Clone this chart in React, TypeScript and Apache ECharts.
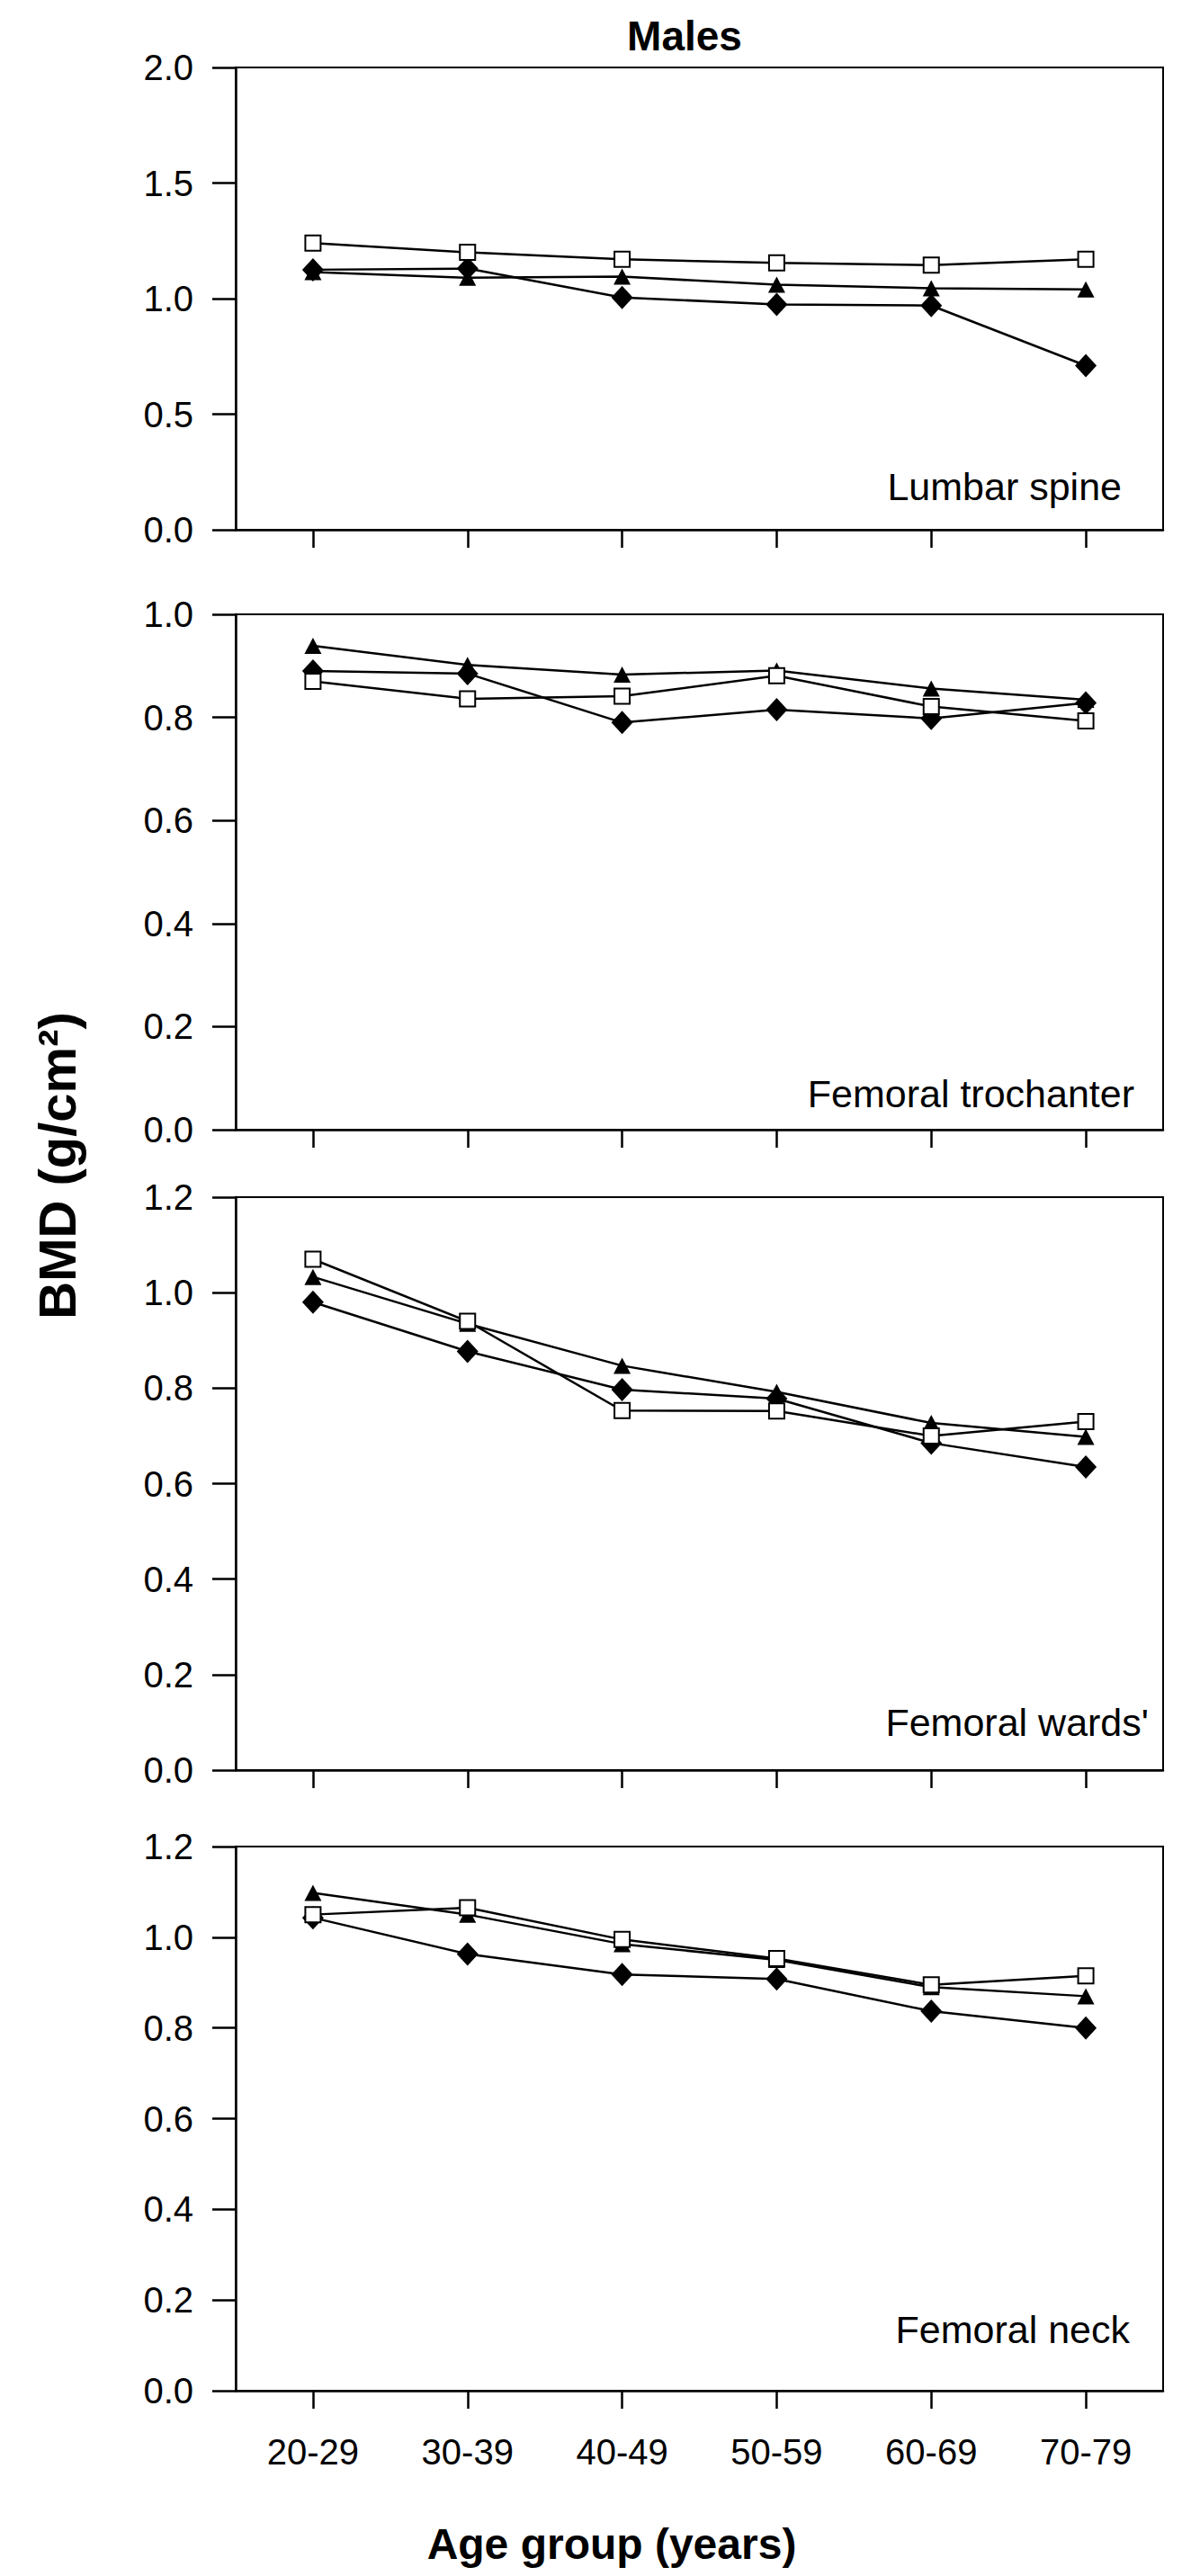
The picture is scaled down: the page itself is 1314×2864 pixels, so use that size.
import React, { useEffect, useRef } from "react";
import * as echarts from "echarts";

const categories = ["20-29", "30-39", "40-49", "50-59", "60-69", "70-79"];

const panelNames = ["Lumbar spine", "Femoral trochanter", "Femoral wards'", "Femoral neck"];
const panelMax = [2.0, 1.0, 1.2, 1.2];
const panelInterval = [0.5, 0.2, 0.2, 0.2];

// Lumbar spine
const lumbarSquare = [1.24, 1.2, 1.17, 1.155, 1.145, 1.17];
const lumbarTriangle = [1.115, 1.09, 1.095, 1.06, 1.045, 1.04];
const lumbarDiamond = [1.125, 1.13, 1.005, 0.975, 0.97, 0.71];

// Femoral trochanter
const trochSquare = [0.87, 0.836, 0.841, 0.881, 0.821, 0.793];
const trochTriangle = [0.939, 0.902, 0.883, 0.891, 0.856, 0.834];
const trochDiamond = [0.89, 0.885, 0.79, 0.815, 0.798, 0.828];

// Femoral wards'
const wardsSquare = [1.07, 0.94, 0.753, 0.752, 0.7, 0.73];
const wardsTriangle = [1.033, 0.935, 0.847, 0.792, 0.727, 0.698];
const wardsDiamond = [0.98, 0.877, 0.797, 0.778, 0.685, 0.635];

// Femoral neck
const neckSquare = [1.05, 1.065, 0.995, 0.953, 0.895, 0.915];
const neckTriangle = [1.098, 1.05, 0.985, 0.95, 0.89, 0.87];
const neckDiamond = [1.043, 0.963, 0.918, 0.908, 0.837, 0.8];

const panelData = [
  { square: lumbarSquare, triangle: lumbarTriangle, diamond: lumbarDiamond },
  { square: trochSquare, triangle: trochTriangle, diamond: trochDiamond },
  { square: wardsSquare, triangle: wardsTriangle, diamond: wardsDiamond },
  { square: neckSquare, triangle: neckTriangle, diamond: neckDiamond },
];

const FONT = "'Liberation Sans', Arial, Helvetica, sans-serif";

export default function App() {
  const ref = useRef<HTMLDivElement>(null);

  useEffect(() => {
    document.body.style.margin = "0";
    if (!ref.current) return;
    const chart = echarts.init(ref.current, undefined, { renderer: "svg" });

    const gridLeft = 262;
    const gridWidth = 1031;
    const gridTops = [75, 683, 1331, 2053];
    const gridHeights = [514, 573, 637, 605];
    const labelPos = [
      { x: 1247, y: 541 },
      { x: 1261, y: 1216 },
      { x: 1277, y: 1915 },
      { x: 1256, y: 2590 },
    ];

    const grids = gridTops.map((t, i) => ({
      left: gridLeft,
      top: t,
      width: gridWidth,
      height: gridHeights[i],
      show: true,
      borderColor: "#000",
      borderWidth: 2,
      backgroundColor: "transparent",
    }));

    const xAxes = gridTops.map((_, i) => ({
      type: "category",
      gridIndex: i,
      data: categories,
      boundaryGap: true,
      axisLine: { show: true, lineStyle: { color: "#000", width: 2.5 } },
      axisTick: {
        show: true,
        alignWithLabel: true,
        interval: 0,
        length: 20,
        lineStyle: { color: "#000", width: 2.5 },
      },
      axisLabel: {
        show: i === 3,
        interval: 0,
        margin: 48,
        fontSize: 40,
        color: "#000",
        fontFamily: FONT,
      },
      splitLine: { show: false },
    }));

    const yAxes = gridTops.map((_, i) => ({
      type: "value",
      gridIndex: i,
      min: 0,
      max: panelMax[i],
      interval: panelInterval[i],
      axisLine: { show: true, lineStyle: { color: "#000", width: 2.5 } },
      axisTick: { show: true, length: 26, lineStyle: { color: "#000", width: 2.5 } },
      axisLabel: {
        margin: 47,
        fontSize: 40,
        color: "#000",
        fontFamily: FONT,
        formatter: (v: number) => v.toFixed(1),
      },
      splitLine: { show: false },
    }));

    const series: any[] = [];
    panelData.forEach((p, i) => {
      series.push({
        type: "line",
        name: "diamond",
        xAxisIndex: i,
        yAxisIndex: i,
        data: p.diamond,
        symbol: "diamond",
        symbolSize: [24, 26],
        lineStyle: { color: "#000", width: 2.5 },
        itemStyle: { color: "#000" },
      });
      series.push({
        type: "line",
        name: "triangle",
        xAxisIndex: i,
        yAxisIndex: i,
        data: p.triangle,
        symbol: "triangle",
        symbolSize: [19, 18],
        lineStyle: { color: "#000", width: 2.5 },
        itemStyle: { color: "#000" },
      });
      series.push({
        type: "line",
        name: "square",
        xAxisIndex: i,
        yAxisIndex: i,
        data: p.square,
        symbol: "rect",
        symbolSize: 17,
        lineStyle: { color: "#000", width: 2.5 },
        itemStyle: { color: "#fff", borderColor: "#000", borderWidth: 2 },
      });
    });

    const graphics: any[] = [
      {
        type: "text",
        x: 761,
        y: 40,
        style: {
          text: "Males",
          font: `bold 46px ${FONT}`,
          fill: "#000",
          textAlign: "center",
          textVerticalAlign: "middle",
        },
      },
      {
        type: "text",
        x: 63,
        y: 1296,
        rotation: Math.PI / 2,
        style: {
          text: "BMD (g/cm²)",
          font: `bold 58px ${FONT}`,
          fill: "#000",
          textAlign: "center",
          textVerticalAlign: "middle",
        },
      },
      {
        type: "text",
        x: 680,
        y: 2828,
        style: {
          text: "Age group (years)",
          font: `bold 48px ${FONT}`,
          fill: "#000",
          textAlign: "center",
          textVerticalAlign: "middle",
        },
      },
    ];
    panelNames.forEach((n, i) => {
      graphics.push({
        type: "text",
        x: labelPos[i].x,
        y: labelPos[i].y,
        style: {
          text: n,
          font: `43px ${FONT}`,
          fill: "#000",
          textAlign: "right",
          textVerticalAlign: "middle",
        },
      });
    });

    chart.setOption({
      animation: false,
      backgroundColor: "#fff",
      grid: grids,
      xAxis: xAxes,
      yAxis: yAxes,
      series,
      graphic: graphics,
    });

    return () => chart.dispose();
  }, []);

  return <div ref={ref} style={{ width: 1314, height: 2864 }} />;
}
